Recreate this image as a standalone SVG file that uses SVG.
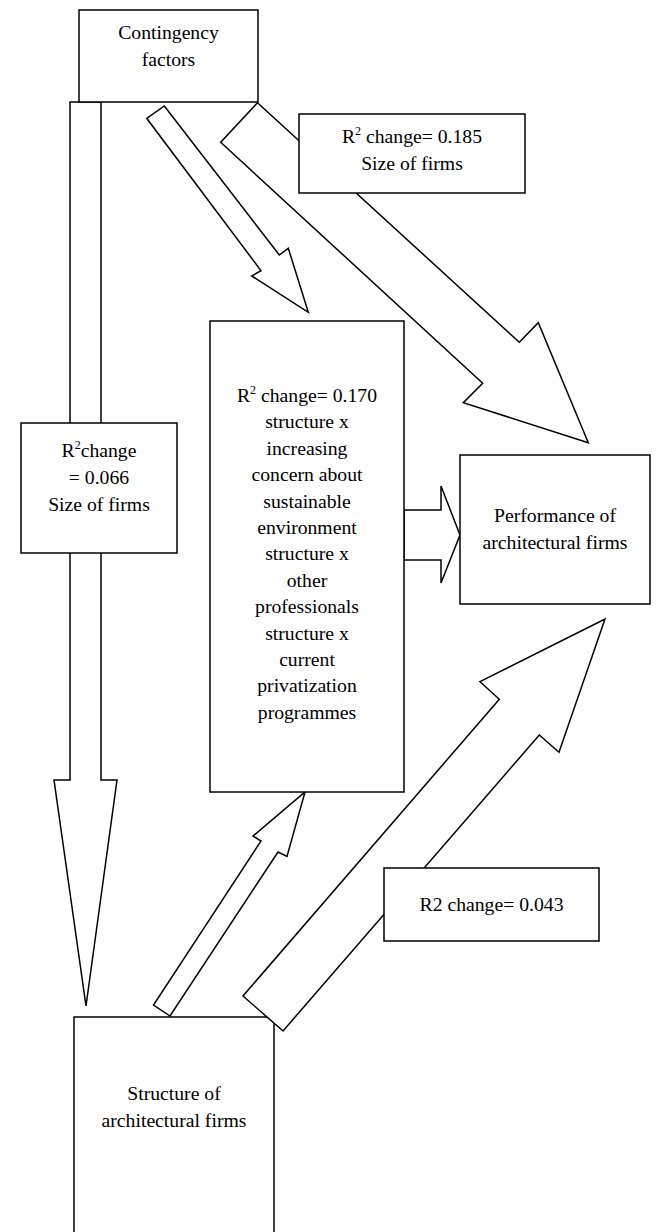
<svg xmlns="http://www.w3.org/2000/svg" width="659" height="1232" viewBox="0 0 659 1232">
<style>
.box{fill:#fff;stroke:#000;stroke-width:1.5}
.arr{fill:#fff;stroke:#000;stroke-width:1.5;stroke-linejoin:miter}
text{font-family:"Liberation Serif","Times New Roman",serif;font-size:19.7px;fill:#000;text-anchor:middle}
.sup{font-size:12px}
</style>
<rect width="659" height="1232" fill="#fff"/>
<g id="node-structure">
<rect class="box" x="74" y="1017" width="200" height="230"/>
<text x="174" y="1100">Structure of</text>
<text x="174" y="1127">architectural firms</text>
</g>
<g id="connectors">
<polygon id="c-contingency-structure" class="arr" points="70,102 101,102 101,780 117,780 86,1006 54,780 70,780"/>
<polygon id="c-contingency-interaction" class="arr" points="164.3,106 279.3,255 288.3,248.3 308.3,312.3 251.7,276 261,270.7 146.7,118.3"/>
<polygon id="c-contingency-performance" class="arr" points="257.5,102.7 519.3,342.3 538.3,322.7 588.3,442.7 463.3,402.7 482.7,383.3 220.7,142.3"/>
<polygon id="c-interaction-performance" class="arr" points="404,510 441,510 441,486 460,535 441,583 441,560 404,560"/>
<polygon id="c-structure-interaction" class="arr" points="305,792 287,856.5 278,852 170,1016 153.5,1005 261,841 253,836"/>
<polygon id="c-structure-performance" class="arr" points="605,619 559,752.3 539.3,735 283,1031 243,996 499.3,699.3 480,681.7"/>
</g>
<g id="node-contingency">
<rect class="box" x="79" y="10" width="179" height="92"/>
<text x="168.5" y="39">Contingency</text>
<text x="168.5" y="66">factors</text>
</g>
<g id="node-r2-size-185">
<rect class="box" x="299" y="114" width="226" height="79"/>
<text x="412" y="143">R<tspan class="sup" dy="-8">2</tspan><tspan dy="8"> change= 0.185</tspan></text>
<text x="412" y="170">Size of firms</text>
</g>
<g id="node-r2-size-066">
<rect class="box" x="21" y="423" width="156" height="130"/>
<text x="99" y="457">R<tspan class="sup" dy="-8">2</tspan><tspan dy="8">change</tspan></text>
<text x="99" y="484">= 0.066</text>
<text x="99" y="511">Size of firms</text>
</g>
<g id="node-interaction">
<rect class="box" x="210" y="321" width="194" height="471"/>
<text x="307" y="402">R<tspan class="sup" dy="-8">2</tspan><tspan dy="8"> change= 0.170</tspan></text>
<text x="307" y="428.4">structure x</text>
<text x="307" y="454.8">increasing</text>
<text x="307" y="481.2">concern about</text>
<text x="307" y="507.6">sustainable</text>
<text x="307" y="534">environment</text>
<text x="307" y="560.4">structure x</text>
<text x="307" y="586.8">other</text>
<text x="307" y="613.2">professionals</text>
<text x="307" y="639.6">structure x</text>
<text x="307" y="666">current</text>
<text x="307" y="692.4">privatization</text>
<text x="307" y="718.8">programmes</text>
</g>
<g id="node-performance">
<rect class="box" x="460" y="455" width="190" height="149"/>
<text x="555" y="522">Performance of</text>
<text x="555" y="549">architectural firms</text>
</g>
<g id="node-r2-043">
<rect class="box" x="384" y="868" width="215" height="73"/>
<text x="491.5" y="911">R2 change= 0.043</text>
</g>
</svg>
